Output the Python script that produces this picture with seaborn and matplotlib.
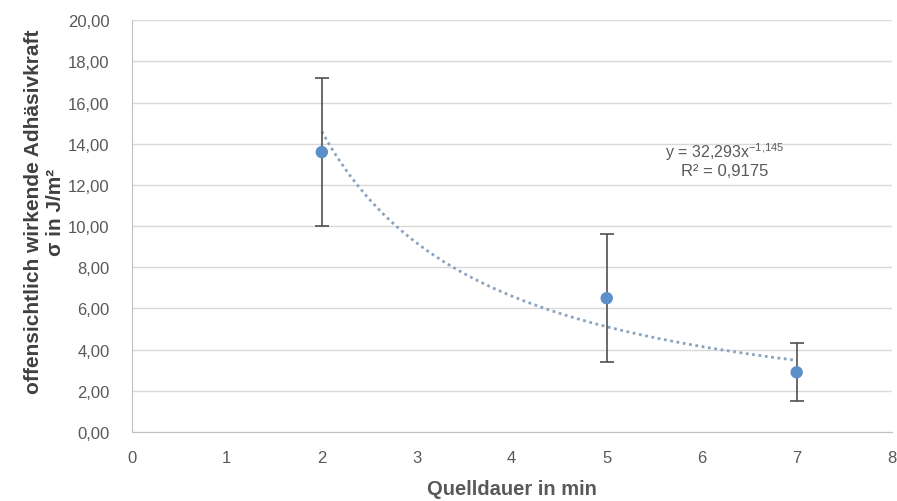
import numpy as np
import pandas as pd
import matplotlib
matplotlib.use("Agg")
import matplotlib.pyplot as plt
import seaborn as sns
from matplotlib.ticker import FuncFormatter

# Data
quelldauer = [2, 5, 7]
adhaesion = [13.6, 6.5, 2.9]
fehler = [3.6, 3.1, 1.4]
fit_a = 32.293
fit_b = -1.145
r2_text = "R² = 0,9175"
eq_text = r"y = 32,293x$^{-1{,}145}$"
x_ticks = [0, 1, 2, 3, 4, 5, 6, 7, 8]
y_ticks = [0, 2, 4, 6, 8, 10, 12, 14, 16, 18, 20]

sns.set_style("white")
plt.rcParams['font.family'] = ['Liberation Sans Narrow', 'Liberation Sans', 'DejaVu Sans']
plt.rcParams['mathtext.fontset'] = 'custom'
plt.rcParams['mathtext.rm'] = 'Liberation Sans'

fig = plt.figure(figsize=(8.97, 5.02), dpi=100)
ax = fig.add_axes([0.147, 0.1375, 0.847, 0.82])

df = pd.DataFrame({"x": quelldauer, "y": adhaesion, "err": fehler})

# trendline
xs = np.linspace(min(quelldauer), max(quelldauer), 200)
trend = pd.DataFrame({"x": xs, "y": fit_a * xs ** fit_b})
sns.lineplot(data=trend, x="x", y="y", ax=ax, color="#8aa4c0",
             linestyle=(0, (1, 1.3)), linewidth=2.0, zorder=3)

ax.errorbar(df["x"], df["y"], yerr=df["err"], fmt="none", ecolor="#505050",
            elinewidth=1.2, capsize=5, capthick=1.2, zorder=4)
sns.scatterplot(data=df, x="x", y="y", ax=ax, color="#5b8fc9", s=80,
                edgecolor="none", zorder=5)

ax.set_xlim(0, 8)
ax.set_ylim(0, 20)
ax.set_xticks(x_ticks)
ax.set_yticks(y_ticks)
ax.yaxis.set_major_formatter(FuncFormatter(lambda v, p: f"{v:.2f}".replace(".", ",")))
ax.grid(axis="y", color="#d9d9d9", linewidth=1.0)
ax.grid(axis="x", visible=False)
ax.set_axisbelow(True)
for s in ["top", "right"]:
    ax.spines[s].set_visible(False)
ax.spines["left"].set_color("#bfbfbf")
ax.spines["bottom"].set_color("#bfbfbf")
ax.tick_params(axis="both", length=0, labelsize=12, colors="#595959")
ax.tick_params(axis="y", pad=16)
ax.tick_params(axis="x", pad=13)

ax.set_xlabel("Quelldauer in min", fontsize=14.5, fontweight="bold", color="#595959", labelpad=10)
ax.set_ylabel("offensichtlich wirkende Adhäsivkraft\nσ in J/m²", fontsize=15,
              fontweight="bold", color="#404040", linespacing=1.2)
ax.yaxis.set_label_coords(-0.088, 0.537)

ax.text(6.24, 13.65, eq_text, fontsize=11.5, color="#595959", ha="center", va="center")
ax.text(6.24, 12.7, r2_text, fontsize=12, color="#595959", ha="center", va="center")

fig.savefig("out.png", dpi=100)
